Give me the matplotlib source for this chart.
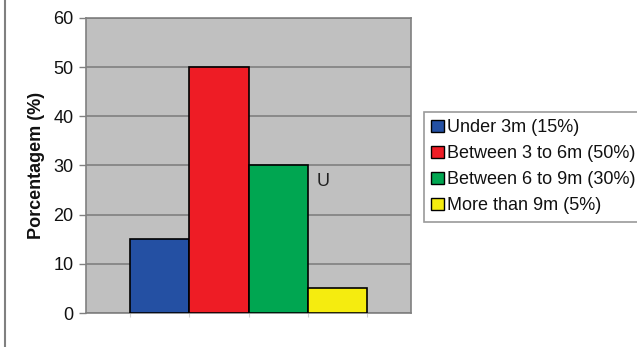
import matplotlib
matplotlib.use("Agg")
import matplotlib.pyplot as plt
from matplotlib.patches import Patch
from matplotlib.lines import Line2D

plt.rcParams['font.family'] = ['Liberation Sans', 'DejaVu Sans']

categories = ["Under 3m (15%)", "Between 3 to 6m (50%)", "Between 6 to 9m (30%)", "More than 9m (5%)"]
values = [15, 50, 30, 5]
colors = ["#2450a3", "#ee1c25", "#00a651", "#f5ec0f"]
yticks = [0, 10, 20, 30, 40, 50, 60]
ylabel = "Porcentagem (%)"
annotation = "U"

W, H = 637, 347
fig = plt.figure(figsize=(W/100, H/100), dpi=100)
ax = fig.add_axes([86/W, 1-313/H, (411-86)/W, (313-18)/H])
ax.set_facecolor("#c0c0c0")

x = list(range(len(values)))
ax.bar(x, values, width=1.0, color=colors, edgecolor="black", linewidth=1.2, zorder=3)
ax.set_xlim(-1.25, 4.25)
ax.set_ylim(0, 60)
ax.set_yticks(yticks)
ax.set_yticklabels([str(t) for t in yticks], fontsize=13, color="#111111")
ax.yaxis.grid(True, color="#808080", linewidth=1.2, zorder=1)
ax.set_axisbelow(True)
ax.set_xticks([-0.5, 0.5, 1.5, 2.5, 3.5])
ax.set_xticklabels([])
ax.tick_params(axis="x", length=3, color="#d0d0d0", direction="out")
ax.tick_params(axis="y", length=5, color="#808080", width=1, pad=4)
for s in ["top", "right", "bottom", "left"]:
    ax.spines[s].set_color("#808080")
    ax.spines[s].set_linewidth(1.2)
ax.set_ylabel(ylabel, fontsize=13, fontweight="bold", labelpad=6, color="#111111")

ax.text(2.66, 26.8, annotation, fontsize=13, ha="left", va="center", color="#222222", zorder=4)

handles = [Patch(facecolor=c, edgecolor="black", linewidth=1.0) for c in colors]
leg = fig.legend(handles, categories, loc="upper left",
                 bbox_to_anchor=(424/W, 1-112/H), fontsize=13,
                 handlelength=0.7, handleheight=0.7, handletextpad=0.15,
                 labelspacing=0.5, borderpad=0.4, borderaxespad=0,
                 frameon=True, fancybox=False, edgecolor="#808080")
leg.get_frame().set_linewidth(1.2)
for t in leg.get_texts():
    t.set_color("#111111")

fig.add_artist(Line2D([5/W, 5/W], [0, 1], color="#808080", linewidth=1.5, transform=fig.transFigure))

fig.savefig("out.png", dpi=100)
